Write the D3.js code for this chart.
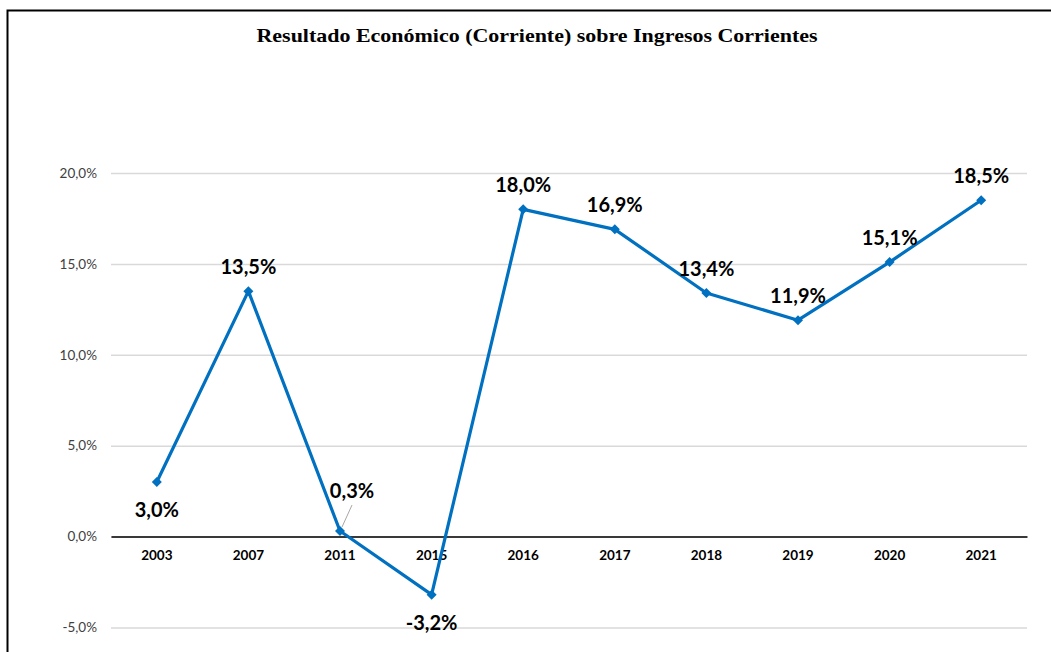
<!DOCTYPE html>
<html><head><meta charset="utf-8">
<script src="https://cdn.jsdelivr.net/npm/d3@7"></script>
<style>body{margin:0;background:#fff;}svg{display:block;}</style>
</head><body>
<svg id="c" width="1051" height="652"></svg>
<script>
const categories = ["2003","2007","2011","2015","2016","2017","2018","2019","2020","2021"];
const values = [3.0, 13.5, 0.3, -3.2, 18.0, 16.9, 13.4, 11.9, 15.1, 18.5];
const yTicks = [-5, 0, 5, 10, 15, 20];
const labelPos = ["below","above","leader","below","above","above","above","above","above","above"];
const title = "Resultado Económico (Corriente) sobre Ingresos Corrientes";

const svg = d3.select("#c");
const fmt = v => v.toFixed(1).replace(".", ",") + "%";

// frame
svg.append("path").attr("d","M7.5,652 V10.5 H1051").attr("fill","none").attr("stroke","#000").attr("stroke-width",2);

svg.append("text").attr("x",537).attr("y",42).attr("text-anchor","middle")
  .attr("font-family","Liberation Serif").attr("font-weight","bold").attr("font-size",19)
  .attr("textLength",561).attr("lengthAdjust","spacingAndGlyphs").attr("fill","#000").text(title);

const x = d3.scaleBand().domain(categories).range([111, 1027]);
const y = d3.scaleLinear().domain([0, 20]).range([536.5, 173]);

// gridlines
const yAxis = d3.axisLeft(y).tickValues(yTicks).tickSize(-916).tickFormat(d => fmt(d)).tickPadding(14);
const ga = svg.append("g").attr("transform","translate(111,0)").call(yAxis);
ga.select(".domain").remove();
ga.selectAll(".tick line").attr("stroke","#d9d9d9").attr("stroke-width",1.5);
ga.selectAll(".tick text").attr("font-family","Lato").attr("font-size",13.5).attr("fill","#404040");

// zero axis
const xAxis = d3.axisBottom(x).tickSize(0).tickPadding(14);
const gx = svg.append("g").attr("transform",`translate(0,${y(0)})`).call(xAxis);
gx.select(".domain").attr("stroke","#000").attr("stroke-width",1.5);
gx.selectAll(".tick text").attr("font-family","Lato").attr("font-weight","bold").attr("font-size",13.5).attr("fill","#000");

const cx = (d,i) => x(categories[i]) + x.bandwidth()/2;

svg.append("path").datum(values)
  .attr("d", d3.line().x((d,i)=>cx(d,i)).y(d=>y(d)))
  .attr("fill","none").attr("stroke","#0070C0").attr("stroke-width",3.2).attr("stroke-linejoin","round");

svg.selectAll(".m").data(values).enter().append("path")
  .attr("d", d3.symbol().type(d3.symbolSquare).size(50))
  .attr("transform",(d,i)=>`translate(${cx(d,i)},${y(d)}) rotate(45)`)
  .attr("fill","#0070C0");

// leader line
values.forEach((d,i)=>{
  if(labelPos[i]==="leader"){
    svg.append("line").attr("x1",cx(d,i)+2).attr("y1",y(d)-4).attr("x2",cx(d,i)+12).attr("y2",y(d)-26)
      .attr("stroke","#a6a6a6").attr("stroke-width",1);
  }
});

svg.selectAll(".lbl").data(values).enter().append("text")
  .attr("x",(d,i)=> labelPos[i]==="leader" ? cx(d,i)+12 : cx(d,i))
  .attr("y",(d,i)=> labelPos[i]==="below" ? y(d)+35 : labelPos[i]==="leader" ? y(d)-33 : y(d)-17)
  .attr("text-anchor","middle")
  .attr("font-family","Lato").attr("font-weight","bold").attr("font-size",20).attr("fill","#000")
  .text(d=>fmt(d));
</script>
</body></html>
